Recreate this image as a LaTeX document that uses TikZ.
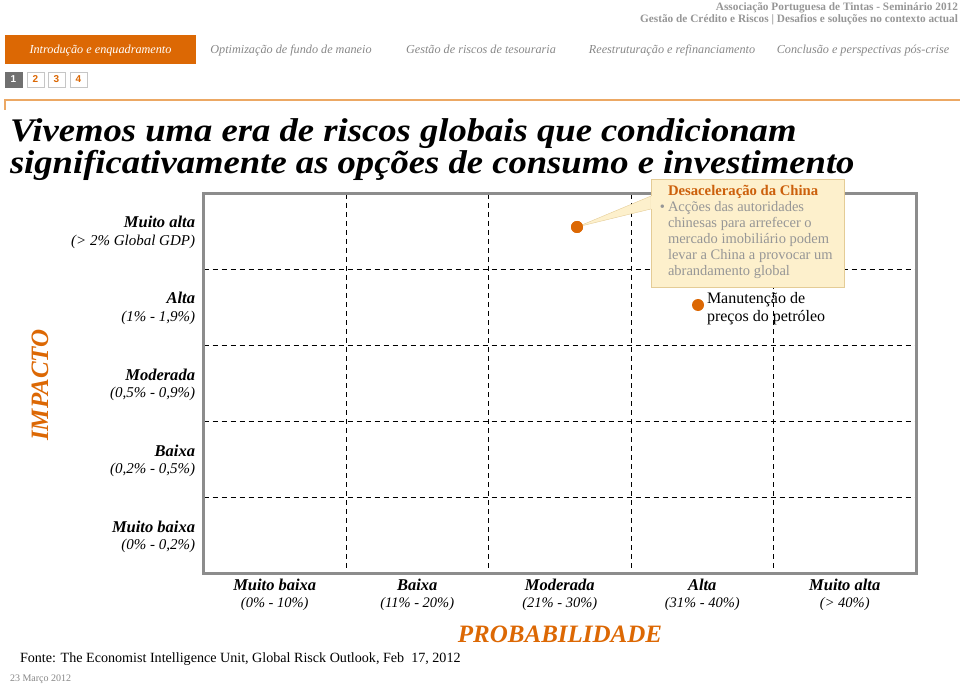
\documentclass[tikz,border=0pt]{standalone}
\usepackage{fontspec}
\setmainfont{Liberation Serif}
\setsansfont{Liberation Sans}
\usepackage{xcolor}
\usepackage{tikz}
\usetikzlibrary{positioning,calc}
\definecolor{pwcorange}{RGB}{220,104,4}
\definecolor{darkorange}{RGB}{204,96,12}
\definecolor{navgray}{RGB}{135,135,135}
\definecolor{headgray}{RGB}{150,150,150}
\definecolor{framegray}{RGB}{140,140,140}
\definecolor{pagegray}{RGB}{112,112,112}
\definecolor{rulecolor}{RGB}{236,168,100}
\definecolor{calloutfill}{RGB}{253,240,204}
\definecolor{calloutline}{RGB}{228,204,150}
\definecolor{callouttext}{RGB}{150,150,150}
\newcommand{\fsz}[2]{\fontsize{#1}{#2}\selectfont}

\begin{document}
\begin{tikzpicture}[x=1pt,y=-1pt,inner sep=0pt,outer sep=0pt]
\tikzstyle{navitem}=[font=\fsz{12.2}{14}\itshape,text=navgray,anchor=base]
\tikzstyle{pagebox}=[draw=gray!45,fill=white,minimum width=17pt,minimum height=15pt,font=\sffamily\bfseries\fsz{10}{12},text=pwcorange]
\tikzstyle{headtext}=[font=\bfseries\fsz{11.3}{12},text=headgray,anchor=base east]
\tikzstyle{titletext}=[font=\bfseries\itshape\fsz{33}{34},anchor=base west]
\tikzstyle{impname}=[font=\bfseries\itshape\fsz{16.5}{18},anchor=base east]
\tikzstyle{imprange}=[font=\itshape\fsz{15}{16},anchor=base east]
\tikzstyle{probname}=[font=\bfseries\itshape\fsz{16.5}{18},anchor=base]
\tikzstyle{probrange}=[font=\itshape\fsz{14.5}{16},anchor=base]
\tikzstyle{axisname}=[font=\bfseries\itshape\fsz{25}{26},text=pwcorange]
\tikzstyle{gridline}=[line width=1pt,dash pattern=on 5pt off 4pt]
\tikzstyle{riskdot}=[circle,fill=pwcorange,minimum size=12pt]
\tikzstyle{calloutbox}=[fill=calloutfill,minimum width=193pt,minimum height=108pt,anchor=north west]
\useasboundingbox (0,0) rectangle (960,684);
\node[headtext] (seminar) at (958,10.5) {Associação Portuguesa de Tintas - Seminário 2012};
\node[headtext] (theme) at (958,22.5) {Gestão de Crédito e Riscos | Desafios e soluções no contexto actual};
\node[fill=pwcorange,minimum width=191pt,minimum height=29pt,anchor=north west] (tab) at (5,35) {};
\node[navitem,text=white] (navintro) at (100.5,54) {Introdução e enquadramento};
\node[navitem] (navfund) at (291,54) {Optimização de fundo de maneio};
\node[navitem] (navtreas) at (481,54) {Gestão de riscos de tesouraria};
\node[navitem] (navrestr) at (672,54) {Reestruturação e refinanciamento};
\node[navitem] (navconcl) at (863,54) {Conclusão e perspectivas pós-crise};
\node[pagebox,fill=pagegray,draw=pagegray,text=white] (page1) at (13.5,79.5) {1};
\node[pagebox] (page2) at (35.5,79.5) {2};
\node[pagebox] (page3) at (56.5,79.5) {3};
\node[pagebox] (page4) at (78.5,79.5) {4};
\draw[rulecolor,line width=1.5pt] (5,110) -- (5,100) -- (960,100);
\node[titletext] (title1) at (10,141.5) {\scalebox{1.11}[1]{Vivemos uma era de riscos globais que condicionam}};
\node[titletext] (title2) at (10,173.5) {\scalebox{1.11}[1]{significativamente as opções de consumo e investimento}};
\draw[gridline] (203.5,269.8) -- (916,269.8);
\draw[gridline] (203.5,345.6) -- (916,345.6);
\draw[gridline] (203.5,421.4) -- (916,421.4);
\draw[gridline] (203.5,497.2) -- (916,497.2);
\draw[gridline] (346,194) -- (346,573);
\draw[gridline] (488.5,194) -- (488.5,573);
\draw[gridline] (631,194) -- (631,573);
\draw[gridline] (773.5,194) -- (773.5,573);
\node[draw=framegray,line width=3pt,minimum width=712.5pt,minimum height=379pt,anchor=north west] (matrixframe) at (203.5,194) {};
\node[impname] (imp5) at (195,228) {Muito alta};
\node[imprange] (imp5r) at (195,245.5) {(> 2\% Global GDP)};
\node[impname] (imp4) at (195,304) {Alta};
\node[imprange] (imp4r) at (195,321) {(1\% - 1,9\%)};
\node[impname] (imp3) at (195,380) {Moderada};
\node[imprange] (imp3r) at (195,397.5) {(0,5\% - 0,9\%)};
\node[impname] (imp2) at (195,456) {Baixa};
\node[imprange] (imp2r) at (195,473.5) {(0,2\% - 0,5\%)};
\node[impname] (imp1) at (195,532) {Muito baixa};
\node[imprange] (imp1r) at (195,549.5) {(0\% - 0,2\%)};
\node[axisname,rotate=90] (impacto) at (40,385) {IMPACTO};
\node[probname] (prob1) at (274.75,590.5) {Muito baixa};
\node[probrange] (prob1r) at (274.75,607) {(0\% - 10\%)};
\node[probname] (prob2) at (417.25,590.5) {Baixa};
\node[probrange] (prob2r) at (417.25,607) {(11\% - 20\%)};
\node[probname] (prob3) at (559.75,590.5) {Moderada};
\node[probrange] (prob3r) at (559.75,607) {(21\% - 30\%)};
\node[probname] (prob4) at (702.25,590.5) {Alta};
\node[probrange] (prob4r) at (702.25,607) {(31\% - 40\%)};
\node[probname] (prob5) at (844.75,590.5) {Muito alta};
\node[probrange] (prob5r) at (844.75,607) {(> 40\%)};
\node[axisname,anchor=base] (probabilidade) at (560,642) {PROBABILIDADE};
\node[font=\fsz{14.1}{16},anchor=base west] (source) at (20,662.5) {Fonte: The Economist Intelligence Unit, Global Risck Outlook, Feb~ 17, 2012};
\node[font=\fsz{10}{12},text=navgray,anchor=base west] (date) at (10,681) {23 Março 2012};
\node[riskdot] (china) at (577,227) {};
\node[riskdot] (oil) at (698,305) {};
\node[calloutbox] (chinabox) at (651,179) {};
\coordinate (tipa) at ($(chinabox.north west)+(0,17)$);
\coordinate (tipb) at ($(chinabox.north west)+(0,30)$);
\filldraw[draw=calloutline,fill=calloutfill] (china.center) -- (tipa) -- (tipb) -- cycle;
\fill[calloutfill] (chinabox.north west) rectangle (chinabox.south east);
\draw[calloutline] (tipa) -- (chinabox.north west) -- (chinabox.north east) -- (chinabox.south east) -- (chinabox.south west) -- (tipb);
\node[riskdot] at (china) {};
\node[font=\bfseries\fsz{14.7}{16},text=darkorange,anchor=base west] (chinatitle) at (668,195.5) {Desaceleração da China};
\node[font=\fsz{14.5}{16},text=callouttext,anchor=base east] (bullet) at (665,211.5) {•};
\node[font=\fsz{14.5}{16},text=callouttext,align=left,anchor=north west] (chinatext) at (668,201) {Acções das autoridades\\chinesas para arrefecer o\\mercado imobiliário podem\\levar a China a provocar um\\abrandamento global};
\node[font=\fsz{16}{18},align=left,anchor=north west] (oiltext) at (707,292) {Manutenção de\\preços do petróleo};
\end{tikzpicture}
\end{document}
